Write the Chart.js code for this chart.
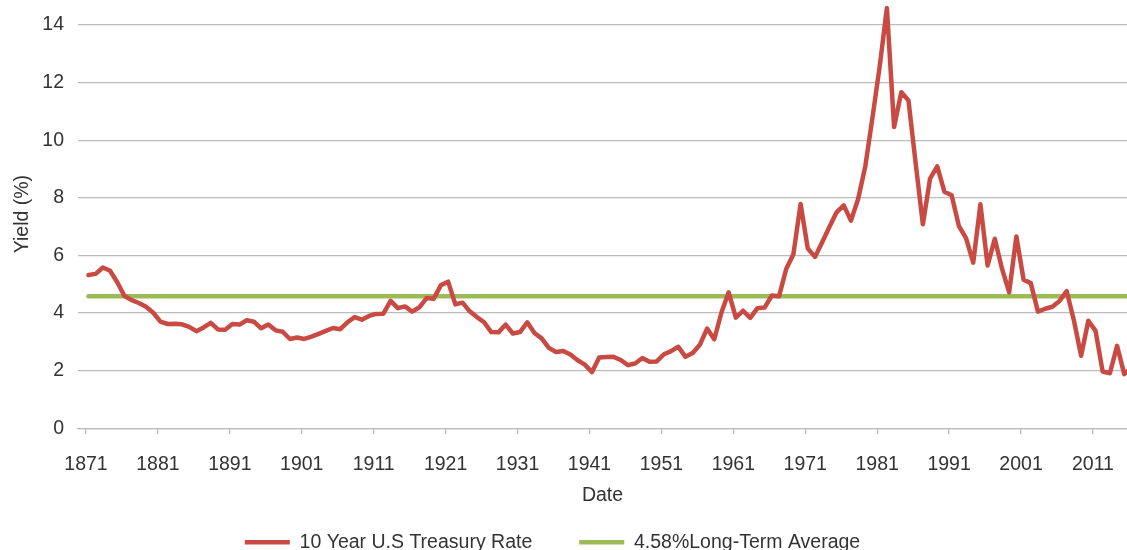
<!DOCTYPE html>
<html>
<head>
<meta charset="utf-8">
<script src="https://cdn.jsdelivr.net/npm/chart.js@4.4.1/dist/chart.umd.min.js"></script>
<style>
  html, body { margin: 0; padding: 0; background: #fff; overflow: hidden; }
  canvas { display: block; }
</style>
</head>
<body>
<canvas id="yield-chart" width="1127" height="562"></canvas>
<script>
// 10 year treasury yield, January of each year
const firstYear = 1871
const treasuryRate = [
    5.32, 5.36, 5.58, 5.47, 5.07, 4.59, 4.45, 4.35, 4.22, 4.01,   // 1871-1880
    3.70, 3.62, 3.63, 3.61, 3.52, 3.37, 3.50, 3.66, 3.43, 3.42,   // 1881-1890
    3.62, 3.60, 3.75, 3.70, 3.47, 3.60, 3.40, 3.35, 3.10, 3.15,   // 1891-1900
    3.10, 3.18, 3.28, 3.38, 3.48, 3.44, 3.68, 3.86, 3.77, 3.90,   // 1901-1910
    3.97, 3.98, 4.42, 4.17, 4.23, 4.05, 4.20, 4.52, 4.50, 4.97,   // 1911-1920
    5.09, 4.30, 4.36, 4.06, 3.86, 3.68, 3.34, 3.33, 3.60, 3.29,   // 1921-1930
    3.34, 3.68, 3.31, 3.12, 2.79, 2.65, 2.68, 2.56, 2.36, 2.21,   // 1931-1940
    1.95, 2.46, 2.47, 2.48, 2.37, 2.19, 2.25, 2.44, 2.31, 2.32,   // 1941-1950
    2.57, 2.68, 2.83, 2.48, 2.61, 2.90, 3.46, 3.09, 4.02, 4.72,   // 1951-1960
    3.84, 4.08, 3.83, 4.17, 4.19, 4.61, 4.58, 5.53, 6.04, 7.79,   // 1961-1970
    6.24, 5.95, 6.46, 6.99, 7.50, 7.74, 7.21, 7.96, 9.10, 10.80,  // 1971-1980
    12.57, 14.59, 10.46, 11.67, 11.38, 9.19, 7.08, 8.67, 9.09, 8.21, // 1981-1990
    8.09, 7.03, 6.60, 5.75, 7.78, 5.65, 6.58, 5.54, 4.72, 6.66,   // 1991-2000
    5.16, 5.04, 4.05, 4.15, 4.22, 4.42, 4.76, 3.74, 2.52, 3.73,   // 2001-2010
    3.39, 1.97, 1.91, 2.86, 1.88, 2.09                            // 2011-2016
]
const years = treasuryRate.map((v, i) => firstYear + i)
const longTermAverage = 4.58

const xTickLabels = [1871, 1881, 1891, 1901, 1911, 1921, 1931, 1941, 1951, 1961, 1971, 1981, 1991, 2001, 2011]
const yTickLabels = [0, 2, 4, 6, 8, 10, 12, 14]

const textColor = "#333333"
const gridColor = "#bcbcbc"
const font = { family: "'Liberation Sans', Arial, sans-serif", size: 19.5 }

// the year ticks sit a little to the left of the points
const tickShift = 0.35

// legend sits a bit left of center in the original
const legendNudge = {
    id: "legendNudge",
    beforeDraw(chart) {
        if (chart.legend) chart.legend.right = chart.width - 22
    }
}

new Chart(document.getElementById("yield-chart"), {
    type: "line",
    data: {
        datasets: [{
            label: "10 Year U.S Treasury Rate",
            data: years.map((y, i) => ({ x: y, y: treasuryRate[i] })),
            borderColor: "#c94a42",
            backgroundColor: "#c94a42",
            borderWidth: 4.5,
            borderCapStyle: "round",
            borderJoinStyle: "round",
            pointRadius: 0,
            tension: 0,
            order: 1
        }, {
            label: "4.58%Long-Term Average",
            data: [{ x: years[0], y: longTermAverage }, { x: years[years.length - 1], y: longTermAverage }],
            borderColor: "#9bbb59",
            backgroundColor: "#9bbb59",
            borderWidth: 4.5,
            borderCapStyle: "round",
            pointRadius: 0,
            order: 2
        }]
    },
    options: {
        responsive: false,
        animation: false,
        events: [],
        layout: { padding: 0 },
        scales: {
            x: {
                type: "linear",
                min: 1869.54,
                max: 2015.38,
                afterBuildTicks(scale) {
                    scale.ticks = xTickLabels.map(v => ({ value: v - tickShift }))
                },
                afterFit(scale) {
                    scale.height = 57.25
                    scale.paddingLeft = 0
                    scale.paddingRight = 0
                },
                ticks: {
                    color: textColor,
                    font: font,
                    padding: 19,
                    maxRotation: 0,
                    autoSkip: false,
                    callback: (value, index) => xTickLabels[index]
                },
                grid: {
                    drawOnChartArea: false,
                    drawTicks: true,
                    tickLength: 6,
                    color: gridColor,
                    lineWidth: 1.3
                },
                border: { display: true, color: gridColor, width: 1.3 },
                title: {
                    display: true,
                    text: "Date",
                    color: textColor,
                    font: font,
                    padding: { top: 0, bottom: -21.5 }
                }
            },
            y: {
                min: 0,
                max: 14.87,
                afterBuildTicks(scale) {
                    scale.ticks = yTickLabels.map(v => ({ value: v }))
                },
                afterFit(scale) {
                    scale.width = 78
                    scale.paddingTop = 0
                    scale.paddingBottom = 0
                },
                ticks: {
                    color: textColor,
                    font: font,
                    padding: 14
                },
                grid: {
                    drawTicks: false,
                    color: gridColor,
                    lineWidth: 1.3
                },
                border: { display: false },
                title: {
                    display: true,
                    text: "Yield (%)",
                    color: textColor,
                    font: font,
                    padding: { top: 11, bottom: 0 }
                }
            }
        },
        plugins: {
            legend: {
                position: "bottom",
                labels: {
                    color: textColor,
                    font: font,
                    usePointStyle: true,
                    pointStyle: "line",
                    pointStyleWidth: 45,
                    padding: 47
                }
            },
            tooltip: { enabled: false }
        }
    },
    plugins: [legendNudge]
})
</script>
</body>
</html>
